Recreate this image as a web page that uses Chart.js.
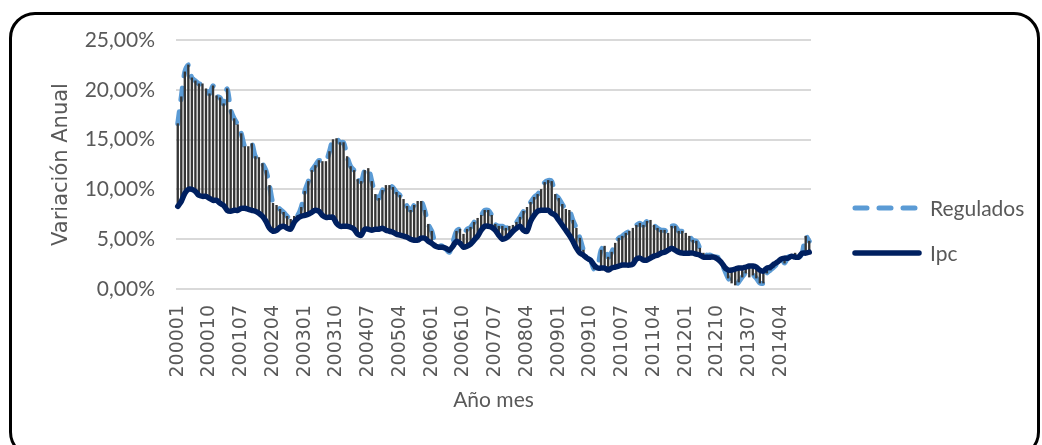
<!DOCTYPE html>
<html>
<head>
<meta charset="utf-8">
<script src="https://cdn.jsdelivr.net/npm/chart.js@4.4.1/dist/chart.umd.min.js"></script>
<style>
    html, body { margin: 0; padding: 0; background: #fff; }
    #wrap { position: relative; width: 1042px; height: 445px; overflow: hidden; }
    #frame { position: absolute; left: 9px; top: 12px; width: 1031px; height: 446px; border: 3px solid #000; border-radius: 26px; box-sizing: border-box; pointer-events: none; }
    canvas { position: absolute; left: 0; top: 0; }
</style>
</head>
<body>
<div id="wrap">
    <canvas id="myChart" width="1042" height="445"></canvas>
    <div id="frame"></div>
</div>
<script>
// months 200001 .. 201412
const labels = [];
for (let y = 2000; y <= 2014; y++) {
    for (let m = 1; m <= 12; m++) {
        labels.push(String(y) + String(m).padStart(2, '0'));
    }
}

// Variación anual (%)
const regulados = [
    16.6, 19.3, 21.8, 22.5, 21.2, 20.9, 20.6, 20.6, 20.1, 19.6, 20.4, 19.4,
    19.2, 18.6, 20.1, 18.0, 17.1, 16.5, 15.6, 14.3, 14.3, 14.6, 13.3, 13.2,
    12.6, 11.9, 10.4, 8.6, 8.4, 8.0, 7.7, 7.3, 7.0, 7.3, 7.4, 8.2,
    9.8, 10.8, 11.9, 12.4, 12.9, 12.8, 12.8, 13.8, 15.0, 15.1, 14.7, 14.7,
    13.3, 12.3, 11.9, 11.0, 10.8, 11.9, 12.1, 10.8, 9.5, 9.1, 9.9, 10.4,
    10.4, 10.2, 9.7, 9.4, 9.0, 8.3, 7.9, 8.4, 8.8, 8.8, 7.9, 6.5,
    5.8, 4.6, 4.4, 4.3, 4.0, 3.7, 4.7, 5.8, 6.0, 5.5, 6.0, 6.2,
    6.7, 7.1, 7.4, 7.9, 7.9, 7.4, 6.5, 6.3, 6.3, 6.1, 6.3, 6.4,
    6.7, 7.2, 7.8, 8.2, 8.7, 9.2, 9.5, 10.0, 10.7, 10.9, 10.8, 9.5,
    9.1, 8.5, 8.0, 7.9, 6.9, 6.1, 5.1, 3.9, 3.1, 2.9, 2.0, 2.2,
    3.9, 4.3, 3.2, 3.7, 4.6, 5.1, 5.3, 5.6, 5.8, 6.1, 6.4, 6.6,
    6.4, 6.8, 6.9, 6.4, 6.1, 5.9, 5.9, 5.6, 6.3, 6.3, 5.8, 5.8,
    5.6, 5.3, 4.9, 4.8, 4.1, 3.6, 3.4, 3.4, 3.2, 3.2, 2.7, 1.9,
    1.1, 0.6, 0.4, 0.7, 1.2, 1.6, 1.2, 1.4, 1.1, 0.6, 0.6, 1.6,
    1.9, 2.2, 2.6, 3.1, 2.6, 3.2, 3.3, 3.6, 3.2, 3.6, 5.3, 4.8
];

const ipc = [
    8.3, 8.8, 9.6, 10.0, 10.0, 9.8, 9.4, 9.3, 9.3, 9.1, 8.9, 8.9,
    8.6, 8.4, 7.9, 7.8, 7.9, 7.9, 8.1, 8.1, 8.0, 7.9, 7.8, 7.6,
    7.3, 6.8, 6.1, 5.8, 5.9, 6.2, 6.3, 6.1, 6.0, 6.7, 7.1, 7.3,
    7.4, 7.5, 7.7, 7.9, 7.8, 7.4, 7.2, 7.2, 7.2, 6.6, 6.3, 6.3,
    6.3, 6.2, 6.0, 5.5, 5.4, 6.0, 6.0, 5.9, 6.0, 6.0, 6.1, 5.9,
    5.8, 5.7, 5.5, 5.4, 5.3, 5.2, 5.0, 4.9, 4.9, 5.1, 5.1, 4.8,
    4.6, 4.3, 4.2, 4.2, 4.1, 3.9, 4.3, 4.8, 4.6, 4.2, 4.3, 4.5,
    4.9, 5.3, 5.9, 6.3, 6.3, 6.2, 5.9, 5.4, 5.0, 5.1, 5.4, 5.8,
    6.1, 6.3, 5.9, 5.8, 6.8, 7.4, 7.8, 7.9, 7.9, 7.9, 7.6, 7.4,
    6.9, 6.4, 5.9, 5.4, 4.8, 4.1, 3.6, 3.4, 3.1, 2.9, 2.4, 2.1,
    2.1, 2.1, 1.9, 2.1, 2.2, 2.3, 2.4, 2.4, 2.4, 2.5, 3.0, 3.1,
    2.9, 2.9, 3.1, 3.3, 3.4, 3.6, 3.7, 3.9, 4.1, 3.9, 3.7, 3.6,
    3.6, 3.6, 3.6, 3.5, 3.4, 3.2, 3.2, 3.2, 3.2, 3.0, 2.7, 2.2,
    1.9, 1.9, 2.0, 2.1, 2.1, 2.2, 2.3, 2.3, 2.2, 1.9, 1.8, 2.1,
    2.2, 2.5, 2.7, 3.0, 3.1, 3.1, 3.3, 3.2, 3.2, 3.6, 3.6, 3.7
];

const yTicks = [0, 5, 10, 15, 20, 25];
const labelEvery = 9;

const grayText = '#595959';

// legend drawn at the right of the plot, like the Excel one
const sideLegend = {
    id: 'sideLegend',
    afterDraw(chart) {
        const ctx = chart.ctx;
        const a = chart.chartArea;
        const rows = [
            { ds: chart.data.datasets[0], y: 208 },
            { ds: chart.data.datasets[2], y: 253 }
        ];
        ctx.save();
        rows.forEach(r => {
            ctx.beginPath();
            ctx.strokeStyle = r.ds.borderColor;
            ctx.lineWidth = r.ds.borderWidth;
            ctx.lineCap = 'round';
            ctx.setLineDash(r.ds.borderDash || []);
            ctx.moveTo(a.right + 44, r.y);
            ctx.lineTo(a.right + 108, r.y);
            ctx.stroke();
            ctx.setLineDash([]);
            ctx.fillStyle = grayText;
            ctx.font = '21px Lato';
            ctx.textBaseline = 'middle';
            ctx.fillText(r.ds.label, a.right + 119, r.y + 1);
        });
        ctx.restore();
    }
};

const data = {
    labels: labels,
    datasets: [{
        type: 'line',
        label: 'Regulados',
        data: regulados,
        borderColor: '#5B9BD5',
        borderWidth: 5,
        borderDash: [12, 12],
        borderCapStyle: 'round',
        pointRadius: 0,
        tension: 0.3,
        order: 3
    }, {
        type: 'bar',
        label: 'hilo',
        data: regulados.map((r, k) => [ipc[k], r]),
        backgroundColor: '#363636',
        barThickness: 1.7,
        order: 2
    }, {
        type: 'line',
        label: 'Ipc',
        data: ipc,
        borderColor: '#002060',
        borderWidth: 5.5,
        borderCapStyle: 'round',
        borderJoinStyle: 'round',
        pointRadius: 0,
        tension: 0.3,
        order: 1
    }]
};

const config = {
    data: data,
    plugins: [sideLegend],
    options: {
        responsive: false,
        animation: false,
        layout: { padding: { left: 30, right: 231, top: 40, bottom: 18 } },
        plugins: {
            legend: { display: false },
            tooltip: { enabled: false }
        },
        scales: {
            x: {
                type: 'category',
                grid: { display: false },
                border: { display: false },
                ticks: {
                    autoSkip: false,
                    maxRotation: 90,
                    minRotation: 90,
                    padding: 8,
                    color: grayText,
                    font: { family: 'DejaVu Sans', size: 19 },
                    callback: function (v, i) { return i % labelEvery === 0 ? labels[i] : ''; }
                },
                title: {
                    display: true,
                    text: 'Año mes',
                    color: grayText,
                    font: { family: 'Lato', size: 21 },
                    padding: { top: 0, bottom: 14 }
                },
                afterFit: function (s) { s.height = 445 - 289 - 18; }
            },
            y: {
                min: 0,
                max: 25,
                afterBuildTicks: function (s) { s.ticks = yTicks.map(v => ({ value: v })); },
                grid: { color: '#d9d9d9', lineWidth: 2, drawTicks: false },
                border: { display: false },
                ticks: {
                    padding: 21,
                    color: grayText,
                    font: { family: 'Lato', size: 21 },
                    callback: v => v.toFixed(2).replace('.', ',') + '%'
                },
                title: {
                    display: true,
                    text: 'Variación Anual',
                    color: grayText,
                    font: { family: 'DejaVu Sans', size: 21 },
                    padding: { top: 19, bottom: 0 }
                },
                afterFit: function (s) { s.width = 176 - 30; }
            }
        }
    }
};

const myChart = new Chart(
    document.getElementById('myChart'),
    config
);
</script>
</body>
</html>
